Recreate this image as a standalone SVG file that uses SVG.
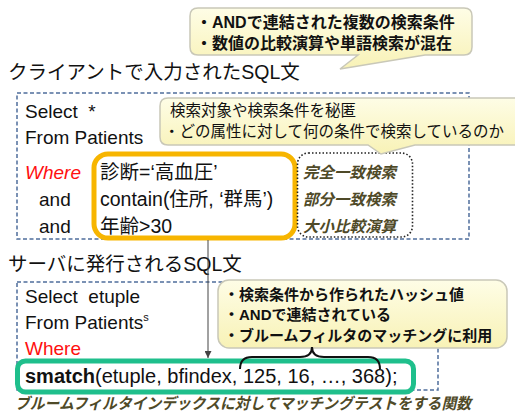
<svg xmlns="http://www.w3.org/2000/svg" width="515" height="418" viewBox="0 0 515 418">
<defs>
<linearGradient id="cg" x1="0" y1="0" x2="0" y2="1">
<stop offset="0" stop-color="#fefde6"/>
<stop offset="1" stop-color="#f8f2b6"/>
</linearGradient>
<marker id="ah" viewBox="0 0 10 10" refX="10" refY="5" markerWidth="7" markerHeight="7" orient="auto" markerUnits="userSpaceOnUse">
<path d="M0,0 L10,5 L0,10 Z" fill="#444"/>
</marker>
</defs>
<style>
text{font-family:"Liberation Sans","Noto Sans CJK JP",sans-serif;fill:#111}
.title{font-size:19.5px}
.code{font-size:19px}
.cond{font-size:19.5px}
.call{fill:url(#cg);stroke:#c9c8b8;stroke-width:1.5}
.cb{font-weight:bold}
.cn{font-size:15.5px}
.dash{fill:none;stroke:#4f6e9c;stroke-width:1.5;stroke-dasharray:4 2.5}
.olive{font-weight:bold;font-style:italic;fill:#4f4a28;font-size:15.5px}
.red{fill:#ff1010}
</style>

<g id="title1"><text class="title" x="8" y="79">クライアントで入力されたSQL文</text></g>

<g id="client-sql">
<rect class="dash" x="17" y="93" width="452" height="146"/>
<text class="code" x="25" y="118" xml:space="preserve">Select  *</text>
<text class="code" x="25" y="144">From Patients</text>
<text class="code red" x="25" y="179" font-style="italic">Where</text>
<text class="code" x="39" y="206">and</text>
<text class="code" x="39" y="233">and</text>
</g>

<g id="conditions">
<rect x="94" y="154" width="201" height="84" rx="14" fill="#fff" stroke="#f7b500" stroke-width="5"/>
<text class="cond" x="100" y="179">診断=‘高血圧’</text>
<text class="cond" x="100" y="206">contain(住所, ‘群馬’)</text>
<text class="cond" x="100" y="233">年齢&gt;30</text>
</g>

<g id="search-types">
<rect x="297.5" y="153" width="115" height="84" rx="11" fill="none" stroke="#222" stroke-width="1.6" stroke-dasharray="1.5 2"/>
<text class="olive" x="303" y="178">完全一致検索</text>
<text class="olive" x="303" y="205">部分一致検索</text>
<text class="olive" x="303" y="232">大小比較演算</text>
</g>

<g id="callout1">
<path class="call" d="M198,8 H464 Q472,8 472,16 V47 Q472,55 464,55 H425 L340,69 L358,55 H198 Q190,55 190,47 V16 Q190,8 198,8 Z"/>
<text class="cb" x="196" y="28" font-size="16px">・ANDで連結された複数の検索条件</text>
<text class="cb" x="196" y="49" font-size="16px">・数値の比較演算や単語検索が混在</text>
</g>

<g id="callout2">
<path class="call" d="M168,98 H530 V145 H415 L381,154 L368,145 H168 Q160,145 160,137 V106 Q160,98 168,98 Z"/>
<text class="cn" x="170" y="116" font-size="16px">検索対象や検索条件を秘匿</text>
<text class="cn" x="164" y="137">・どの属性に対して何の条件で検索しているのか</text>
</g>

<g id="title2"><text class="title" x="8" y="271">サーバに発行されるSQL文</text></g>

<g id="server-sql">
<rect class="dash" x="17" y="282" width="421" height="108"/>
<text class="code" x="25" y="303" xml:space="preserve">Select  etuple</text>
<text class="code" x="25" y="329">From Patients<tspan font-size="11px" dy="-8">s</tspan></text>
<text class="code red" x="25" y="355">Where</text>
</g>

<g id="callout3">
<rect class="call" x="218" y="280" width="289" height="68" rx="11"/>
<text class="cb" x="224" y="300" font-size="15px">・検索条件から作られたハッシュ値</text>
<text class="cb" x="224" y="320" font-size="15px">・ANDで連結されている</text>
<text class="cb" x="224" y="341" font-size="15px">・ブルームフィルタのマッチングに利用</text>
</g>

<g id="smatch">
<rect x="17.5" y="361" width="396" height="31" rx="8" fill="#fff" stroke="#1fbf8c" stroke-width="5"/>
<text x="25" y="383" font-size="20px"><tspan font-weight="bold">smatch</tspan>(etuple, bfindex, 125, 16, …, 368);</text>
</g>

<g id="connectors">
<line x1="208" y1="240" x2="208" y2="358" stroke="#444" stroke-width="1" marker-end="url(#ah)"/>
<path d="M240,369 Q240,357 252,357 H300 Q312,357 312,347 Q312,357 324,357 H368 Q380,357 380,369" fill="none" stroke="#111" stroke-width="2"/>
</g>

<g id="caption"><text class="olive" x="15" y="409" font-size="15px" textLength="456" lengthAdjust="spacingAndGlyphs">ブルームフィルタインデックスに対してマッチングテストをする関数</text></g>
</svg>
